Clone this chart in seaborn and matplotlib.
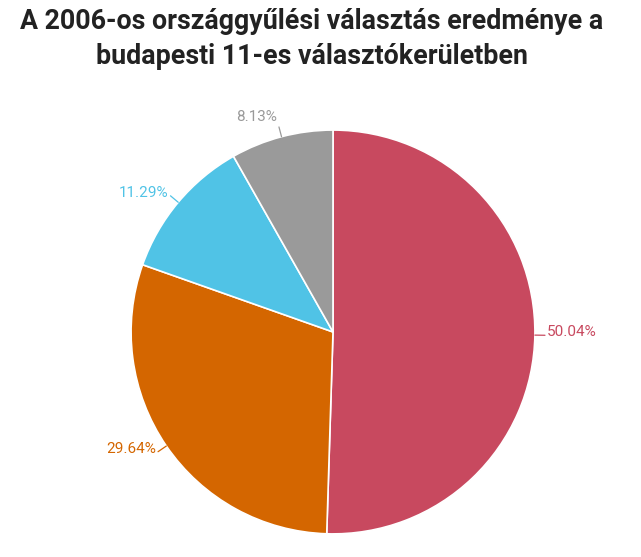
import matplotlib.pyplot as plt
import seaborn as sns
import numpy as np

title = "A 2006-os országgyűlési választás eredménye a\nbudapesti 11-es választókerületben"
shares = [50.04, 29.64, 11.29, 8.13]
labels = ["50.04%", "29.64%", "11.29%", "8.13%"]
colors = ["#C8495F", "#D46600", "#50C3E6", "#9A9A9A"]

sns.set_theme(style="white")
plt.rcParams["font.family"] = ["Roboto", "DejaVu Sans"]

fig = plt.figure(figsize=(6.41, 5.57), dpi=100)
ax = fig.add_axes([0.5195 - 0.315, 0.404 - 0.3626, 0.63, 0.7252])

# clockwise from the top, red first
wedges, _ = ax.pie(shares, colors=colors, startangle=90, counterclock=False,
                   wedgeprops=dict(edgecolor="white", linewidth=1.2))
ax.set_xlim(-1, 1)
ax.set_ylim(-1, 1)
ax.set_aspect("equal")
ax.axis("off")

for w, lab, col in zip(wedges, labels, colors):
    mid = np.deg2rad((w.theta1 + w.theta2) / 2)
    c, s = np.cos(mid), np.sin(mid)
    p0 = (c * 1.0, s * 1.0)
    p1 = (c * 1.05, s * 1.05)
    ax.plot([p0[0], p1[0]], [p0[1], p1[1]], color=col, lw=0.9, clip_on=False)
    ha = "left" if c > 0.05 else "right"
    va = "bottom" if s > 0.9 else "center"
    ax.text(p1[0] + (0.01 if c > 0 else -0.01), p1[1] + 0.015, lab, color=col,
            ha=ha, va=va, fontsize=11)

fig.text(312 / 641, 1 - 39 / 557, title, ha="center", va="center",
         fontsize=19.3, fontweight="bold", color="#222222", linespacing=1.35)

fig.savefig("out.png", dpi=100, facecolor="white")
